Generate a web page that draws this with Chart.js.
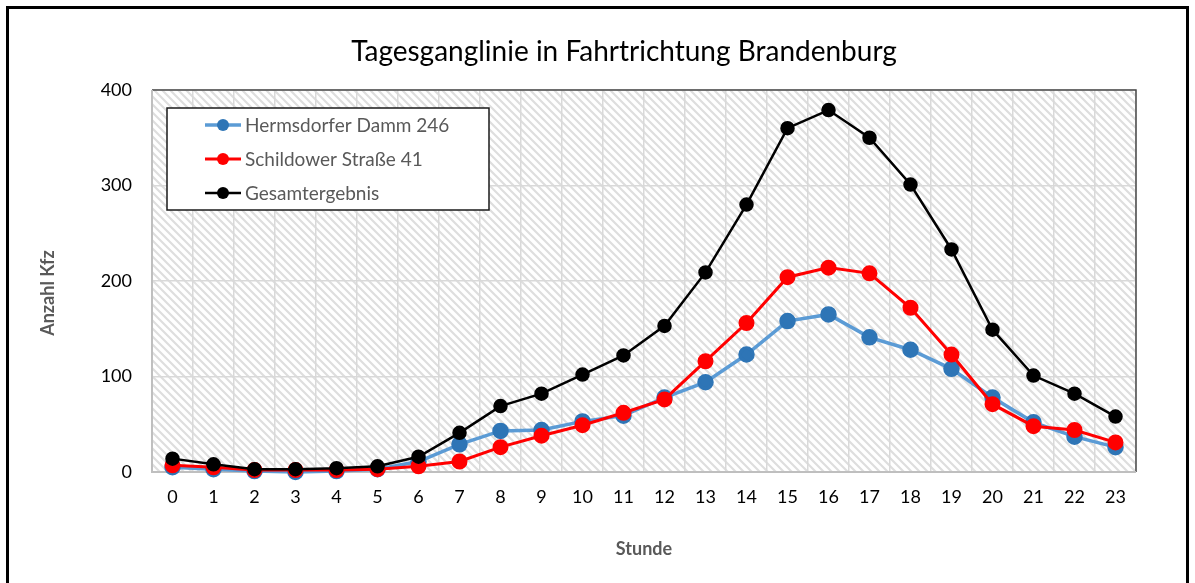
<!DOCTYPE html>
<html>
<head>
<meta charset="utf-8">
<script src="https://cdn.jsdelivr.net/npm/chart.js@4/dist/chart.umd.min.js"></script>
<style>
  body { margin: 0; background: #fff; }
</style>
</head>
<body>
<canvas id="mycanvas" width="1195" height="583"></canvas>
<script>
var hours = ['0','1','2','3','4','5','6','7','8','9','10','11','12','13','14','15','16','17','18','19','20','21','22','23'];
var hermsdorfer = [5, 3, 1, 0, 1, 3, 11, 29, 43, 44, 53, 59, 78, 94, 123, 158, 165, 141, 128, 108, 78, 52, 37, 26];
var schildower = [7, 5, 2, 2, 2, 3, 6, 11, 26, 38, 49, 62, 76, 116, 156, 204, 214, 208, 172, 123, 71, 48, 44, 31];
var gesamt = [14, 8, 3, 3, 4, 6, 16, 41, 69, 82, 102, 122, 153, 209, 280, 360, 379, 350, 301, 233, 149, 101, 82, 58];
var seriesNames = ['Hermsdorfer Damm 246', 'Schildower Straße 41', 'Gesamtergebnis'];
var chartTitle = 'Tagesganglinie in Fahrtrichtung Brandenburg';
var yTitle = 'Anzahl Kfz';

var fontFam = 'Lato, "Open Sans", sans-serif';

// hatched fill for the plot area
function makeHatch() {
  var c = document.createElement('canvas');
  c.width = 8; c.height = 8;
  var g = c.getContext('2d');
  g.fillStyle = '#ffffff';
  g.fillRect(0, 0, 8, 8);
  g.strokeStyle = '#dedede';
  g.lineWidth = 2.2;
  g.beginPath();
  g.moveTo(-1, -1); g.lineTo(9, 9);
  g.moveTo(6, -2); g.lineTo(10, 2);
  g.moveTo(-2, 6); g.lineTo(2, 10);
  g.stroke();
  return c;
}

var backdrop = {
  id: 'backdrop',
  beforeDraw: function(chart) {
    var ctx = chart.ctx, a = chart.chartArea;
    ctx.save();
    ctx.fillStyle = '#fff';
    ctx.fillRect(0, 0, chart.width, chart.height);
    ctx.strokeStyle = '#000';
    ctx.lineWidth = 3;
    ctx.strokeRect(7.5, 7.5, chart.width - 15, chart.height + 20);
    ctx.fillStyle = ctx.createPattern(makeHatch(), 'repeat');
    ctx.fillRect(a.left, a.top, a.right - a.left, a.bottom - a.top);

    // title and y axis title (placed like the original, off the plot centre)
    ctx.fillStyle = '#000';
    ctx.font = '28px ' + fontFam;
    ctx.textAlign = 'center';
    ctx.textBaseline = 'middle';
    ctx.fillText(chartTitle, 624, 52);

    ctx.translate(48, 293);
    ctx.rotate(-Math.PI / 2);
    ctx.fillStyle = '#595959';
    ctx.font = 'bold 18px ' + fontFam;
    ctx.fillText(yTitle, 0, 0);
    ctx.restore();
  },
  beforeDatasetsDraw: function(chart) {
    var ctx = chart.ctx, a = chart.chartArea;
    ctx.save();
    ctx.strokeStyle = '#4a4a4a';
    ctx.lineWidth = 1.5;
    ctx.beginPath();
    ctx.moveTo(a.left, a.top); ctx.lineTo(a.right, a.top); ctx.lineTo(a.right, a.bottom);
    ctx.stroke();
    ctx.strokeStyle = '#bfbfbf';
    ctx.lineWidth = 2;
    ctx.beginPath();
    ctx.moveTo(a.left, a.top); ctx.lineTo(a.left, a.bottom); ctx.lineTo(a.right, a.bottom);
    ctx.stroke();
    ctx.restore();
  }
};

// legend box inside the plot, like the original
var boxLegend = {
  id: 'boxLegend',
  afterDatasetsDraw: function(chart) {
    var ctx = chart.ctx;
    var x0 = 167, y0 = 108, w = 322, h = 102;
    ctx.save();
    ctx.fillStyle = '#fff';
    ctx.fillRect(x0, y0, w, h);
    ctx.strokeStyle = '#1a1a1a';
    ctx.lineWidth = 1.5;
    ctx.strokeRect(x0, y0, w, h);
    ctx.font = '19px ' + fontFam;
    ctx.textBaseline = 'middle';
    chart.data.datasets.forEach(function(ds, i) {
      var y = 125 + i * 34;
      ctx.strokeStyle = ds.borderColor;
      ctx.lineWidth = ds.borderWidth;
      ctx.beginPath();
      ctx.moveTo(205, y); ctx.lineTo(241, y);
      ctx.stroke();
      ctx.fillStyle = ds.pointBackgroundColor;
      ctx.beginPath();
      ctx.arc(223, y, 6, 0, Math.PI * 2);
      ctx.fill();
      ctx.fillStyle = '#595959';
      ctx.fillText(ds.label, 245, y + 1);
    });
    ctx.restore();
  }
};

var chartdata = {
  labels: hours,
  datasets: [
    {
      label: seriesNames[0],
      data: hermsdorfer,
      borderColor: '#5b9bd5',
      borderWidth: 3.5,
      pointBackgroundColor: '#2e75b6',
      pointBorderColor: '#2e75b6',
      pointRadius: 6.5,
      order: 2
    },
    {
      label: seriesNames[1],
      data: schildower,
      borderColor: '#ff0000',
      borderWidth: 3,
      pointBackgroundColor: '#ff0000',
      pointBorderColor: '#ff0000',
      pointRadius: 6.5,
      order: 1
    },
    {
      label: seriesNames[2],
      data: gesamt,
      borderColor: '#000000',
      borderWidth: 2.5,
      pointBackgroundColor: '#000000',
      pointBorderColor: '#000000',
      pointRadius: 6,
      order: 0
    }
  ]
};

var ctx = document.getElementById('mycanvas');
var LineGraph = new Chart(ctx, {
  type: 'line',
  data: chartdata,
  plugins: [backdrop, boxLegend],
  options: {
    responsive: false,
    animation: false,
    clip: false,
    layout: { padding: { left: 0, right: 59, top: 90, bottom: 0 } },
    elements: { line: { tension: 0 }, point: { borderWidth: 0 } },
    plugins: {
      legend: { display: false },
      tooltip: { enabled: false },
      title: { display: false }
    },
    scales: {
      x: {
        offset: true,
        grid: { offset: true, color: '#d9d9d9', lineWidth: 1.5, drawTicks: false },
        border: { display: false },
        ticks: { color: '#000', padding: 14, font: { family: fontFam, size: 18 }, maxRotation: 0 },
        title: {
          display: true, text: 'Stunde', color: '#595959',
          font: { family: fontFam, size: 18, weight: 'bold', lineHeight: 1.2 },
          padding: { top: 0, bottom: 23 }
        },
        afterFit: function(scale) { scale.height = 111; }
      },
      y: {
        min: 0, max: 400,
        grid: { color: '#d9d9d9', lineWidth: 1.5, drawTicks: false },
        border: { display: false },
        ticks: { stepSize: 100, color: '#000', padding: 20, font: { family: fontFam, size: 18 } },
        afterFit: function(scale) { scale.width = 152; }
      }
    }
  }
});
</script>
</body>
</html>
